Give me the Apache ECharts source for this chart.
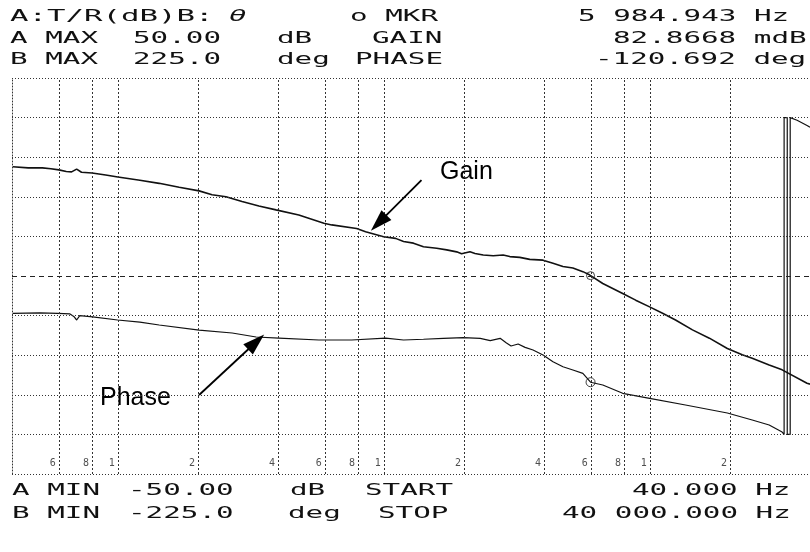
<!DOCTYPE html>
<html>
<head>
<meta charset="utf-8">
<script src="https://cdn.jsdelivr.net/npm/echarts@6/dist/echarts.min.js"></script>
<style>
  html, body { margin: 0; background: #fff; }
  #chart { width: 810px; height: 552px; }
</style>
</head>
<body>
<div id="chart"></div>
<script>
// gain trace (Hz, dB)
const gainFreq = [40.3, 46, 52, 56, 60, 64, 67, 70, 73, 80, 90, 100, 121, 143, 170, 202, 226, 255, 293, 339,
  393, 479, 595, 637, 790, 854, 998, 1107, 1186, 1292, 1409, 1580, 1723, 1878, 1960, 2108, 2201, 2364, 2577, 2808,
  2975, 3244, 3536, 3966, 4324, 4713, 5137, 5600, 5928, 5985, 6653, 7905, 8845, 9980, 11164, 12488, 14460, 16740,
  19556, 22252, 24256, 28089, 31424, 38984, 40000];
const gainDb = [27.6, 27.3, 27.3, 27.1, 26.8, 26.4, 26.3, 27.0, 26.2, 26.0, 25.5, 25.0, 24.2, 23.4, 22.4, 21.5, 20.5, 20.0, 18.8, 17.7,
  16.7, 15.4, 13.3, 12.9, 12.0, 11.2, 9.9, 9.5, 8.7, 8.3, 7.4, 7.0, 6.6, 6.1, 5.6, 6.1, 5.7, 5.3, 5.1, 5.3,
  4.9, 4.7, 4.2, 4.0, 3.2, 2.4, 2.0, 1.1, 0.3, 0.08, -1.9, -4.4, -6.1, -7.8, -9.4, -11.1, -13.6, -15.7,
  -18.3, -19.9, -20.8, -22.5, -23.7, -27.1, -27.3];

// phase trace (Hz, deg) - wraps at -180 near 32 kHz
const phaseFreq = [40.3, 50.9, 59.4, 65.9, 68.3, 70, 71.9, 80.4, 99.8, 121, 143, 202, 269, 331, 403, 570, 757, 1015,
  1186, 1409, 1674, 1989, 2303, 2512, 2737, 2882, 3008, 3197, 3396, 3638, 3966, 4324, 4713, 5137, 5600, 5985,
  6653, 7905, 9980, 13613, 19556, 24256, 28089, 31424, 31970, 31970, 32850, 32850, 33700, 33700, 35760, 38984, 40000];
const phaseDeg = [-42.5, -42.0, -42.5, -43.0, -46.0, -50.0, -45.0, -46.5, -50.0, -52.5, -55.7, -61.4, -64.8, -69.3, -70.5, -72.7, -72.7, -70.5,
  -72.7, -71.9, -70.8, -70.1, -70.8, -73.5, -70.8, -75.8, -79.5, -77.3, -81.1, -84.1, -89.8, -97.4, -103.1, -106.8, -110.6, -120.7,
  -123.9, -133.3, -139.0, -146.6, -155.7, -163.6, -169.3, -177.3, -180, 180, 180, -180, -180, 180, 177, 171, 169];

// marker
const markerFreq = 5984.943;
const markerGain = 0.0828668;
const markerPhase = -120.692;

// graticule: horizontal levels (dB) and vertical lines with the digits printed next to them
const gainLevels = [-50, -40, -30, -20, -10, 10, 20, 30, 40, 50];
const gridFreqs = [60, 80, 100, 200, 400, 600, 800, 1000, 2000, 4000, 6000, 8000, 10000, 20000];
const tickLabels = ['6', '8', '1', '2', '4', '6', '8', '1', '2', '4', '6', '8', '1', '2'];

// instrument text: [text, x, y, pitch, italic]
const screenText = [
  ['A:T/R(dB)B:', 10, 17, 18.5],
  ['θ', 229, 17, 17.6, true],
  ['o MKR', 350, 17],
  ['5 984.943 Hz', 578, 17],
  ['A MAX', 10, 39],
  ['50.00', 133, 39],
  ['dB', 277, 39],
  ['GAIN', 372, 39],
  ['82.8668 mdB', 613, 39],
  ['B MAX', 10, 60],
  ['225.0', 133, 60],
  ['deg', 277, 60],
  ['PHASE', 355, 60],
  ['-120.692 deg', 595, 60],
  ['A MIN', 12, 491],
  ['-50.00', 128, 491],
  ['dB', 290, 491],
  ['START', 365, 491],
  ['40.000 Hz', 632, 491],
  ['B MIN', 12, 514],
  ['-225.0', 128, 514],
  ['deg', 288, 514],
  ['STOP', 378, 514],
  ['40 000.000 Hz', 562, 514],
];

const MONO = '"DejaVu Sans Mono"';
const FONT_SIZE = 16;

const ctx = document.createElement('canvas').getContext('2d');
ctx.font = FONT_SIZE + 'px ' + MONO;
const advance = ctx.measureText('0').width;

const textGraphics = screenText.map(([str, x, y, pitch = 17.6, italic]) => ({
  type: 'text',
  x: x,
  y: y,
  scaleX: pitch / advance,
  silent: true,
  style: {
    text: str,
    font: (italic ? 'italic ' : '') + FONT_SIZE + 'px ' + MONO,
    fill: '#111',
    verticalAlign: 'middle',
  },
}));

const dotted = { color: '#333', width: 1, type: [1, 2] };
const dashedV = { color: '#333', width: 1, type: [2, 2] };
const arrowLine = { color: '#000', width: 1.8, type: 'solid' };

const chart = echarts.init(document.getElementById('chart'));

chart.setOption({
  animation: false,
  backgroundColor: '#fff',
  grid: { left: 12, top: 78, width: 801, height: 396 },
  xAxis: {
    type: 'log',
    logBase: 10,
    min: 40,
    max: 40000,
    axisLine: { show: false },
    axisTick: { show: false },
    axisLabel: { show: false },
    splitLine: { show: false },
  },
  yAxis: [
    {
      type: 'value',
      min: -50,
      max: 50,
      interval: 10,
      axisLine: { show: true, onZero: false, lineStyle: dotted },
      axisTick: { show: false },
      axisLabel: { show: false },
      splitLine: { show: false },
    },
    {
      type: 'value',
      min: -225,
      max: 225,
      interval: 45,
      show: false,
      splitLine: { show: false },
    },
  ],
  graphic: [
    ...textGraphics,
    {
      type: 'text', x: 440, y: 172, silent: true,
      style: { text: 'Gain', font: '25px "Liberation Sans"', fill: '#000', verticalAlign: 'middle' },
    },
    {
      type: 'text', x: 100, y: 398, silent: true,
      style: { text: 'Phase', font: '25px "Liberation Sans"', fill: '#000', verticalAlign: 'middle' },
    },
  ],
  series: [
    {
      name: 'Gain',
      type: 'line',
      yAxisIndex: 0,
      data: gainFreq.map((f, i) => [f, gainDb[i]]),
      showSymbol: false,
      lineStyle: { color: '#111', width: 1.6 },
      z: 3,
      markLine: {
        silent: true,
        symbol: 'none',
        label: { show: false },
        lineStyle: dashedV,
        data: [
          ...gridFreqs.map((f) => ({ xAxis: f })),
          ...gainLevels.map((v) => ({ yAxis: v, lineStyle: dotted })),
          { yAxis: 0, lineStyle: { color: '#222', width: 1, type: [5, 4] } },
          [
            { coord: [1385, 24.2], symbol: 'none', lineStyle: arrowLine },
            { coord: [956, 13.4], symbol: 'triangle', symbolSize: [14, 22] },
          ],
        ],
      },
    },
    {
      name: 'Phase',
      type: 'line',
      yAxisIndex: 1,
      data: phaseFreq.map((f, i) => [f, phaseDeg[i]]),
      showSymbol: false,
      lineStyle: { color: '#111', width: 1.2 },
      z: 3,
      markLine: {
        silent: true,
        symbol: 'none',
        label: { show: false },
        data: [
          [
            { coord: [202, -135.2], symbol: 'none', lineStyle: arrowLine },
            { coord: [331, -75], symbol: 'triangle', symbolSize: [14, 22] },
          ],
        ],
      },
    },
    {
      type: 'scatter',
      yAxisIndex: 0,
      data: [[markerFreq, markerGain]],
      symbol: 'circle',
      symbolSize: 8,
      itemStyle: { color: 'rgba(0,0,0,0)', borderColor: '#111', borderWidth: 1 },
      z: 4,
    },
    {
      type: 'scatter',
      yAxisIndex: 1,
      data: [[markerFreq, markerPhase]],
      symbol: 'circle',
      symbolSize: 9,
      itemStyle: { color: 'rgba(0,0,0,0)', borderColor: '#111', borderWidth: 1 },
      z: 4,
    },
    {
      type: 'scatter',
      yAxisIndex: 0,
      data: gridFreqs.map((f) => [f, -47.2]),
      symbolSize: 0,
      silent: true,
      label: {
        show: true,
        position: 'left',
        distance: 3,
        formatter: (p) => tickLabels[p.dataIndex],
        fontFamily: MONO,
        fontSize: 10,
        color: '#222',
      },
    },
  ],
});
</script>
</body>
</html>
